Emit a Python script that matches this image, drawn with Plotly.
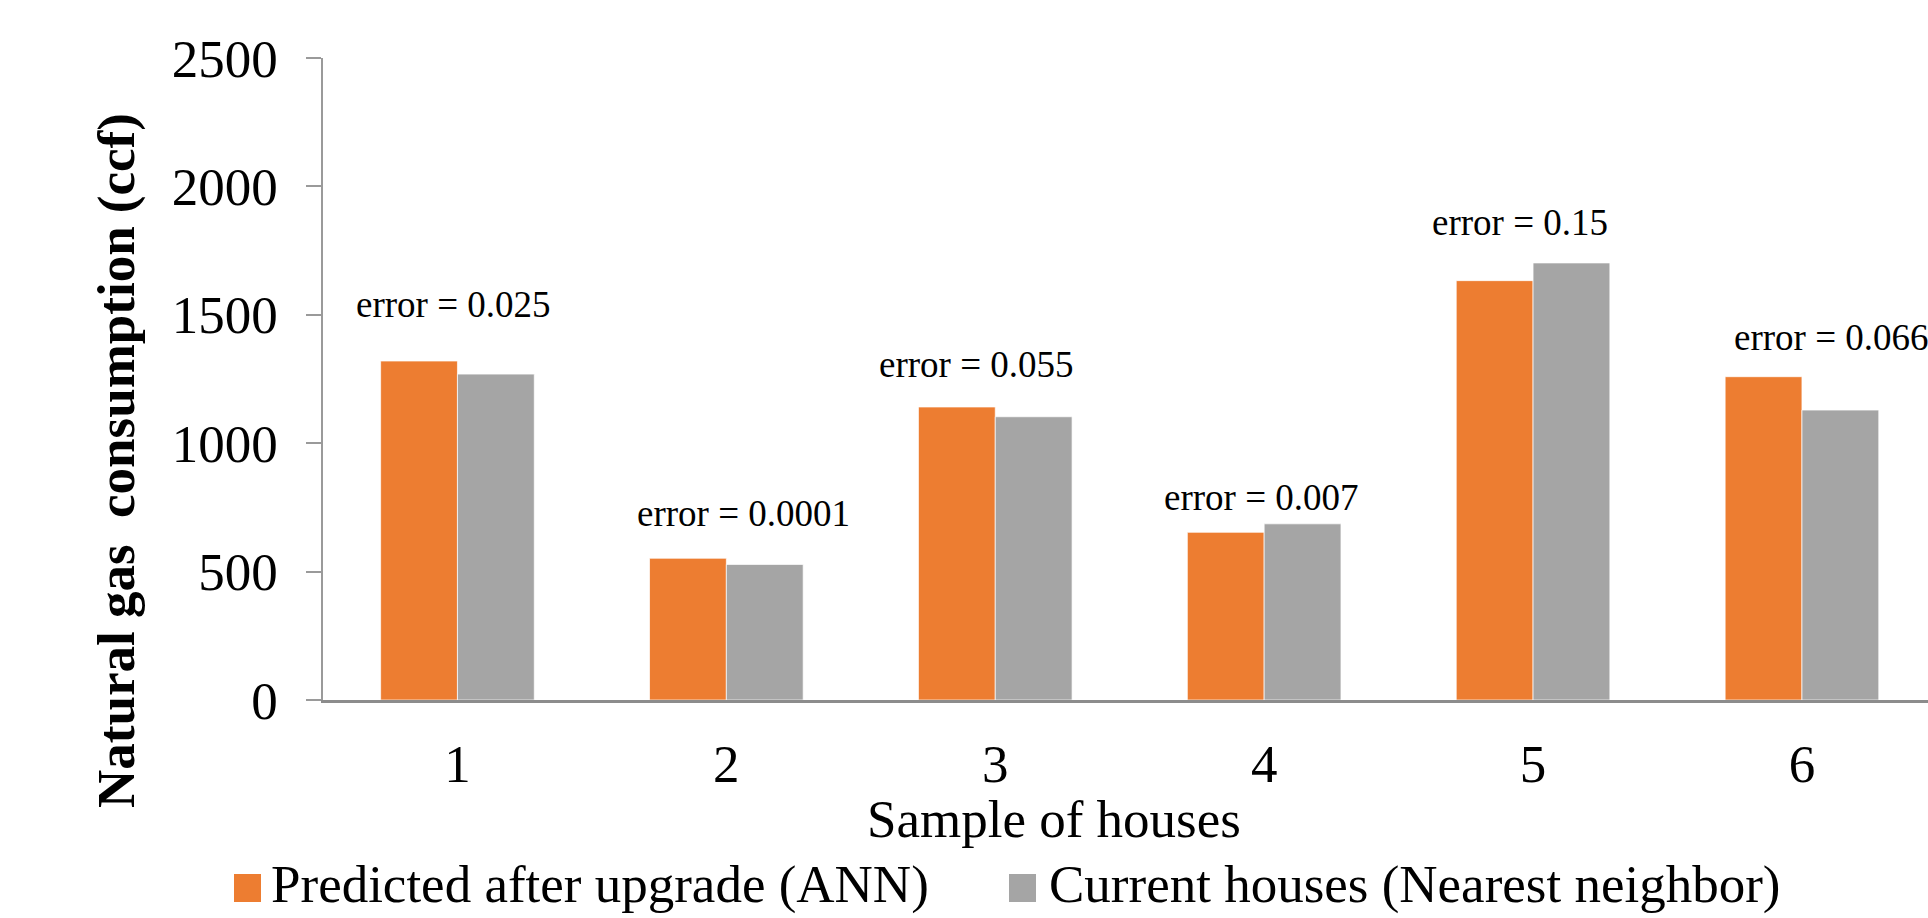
import plotly.graph_objects as go

# ---- data -------------------------------------------------------------
houses = [1, 2, 3, 4, 5, 6]
predicted_ann = [1320, 552, 1141, 653, 1633, 1259]      # predicted after upgrade (ANN)
current_nn = [1269, 528, 1103, 686, 1702, 1129]         # current houses (nearest neighbor)
error_text = ["error = 0.025", "error = 0.0001", "error = 0.055",
              "error = 0.007", "error = 0.15", "error = 0.066"]
y_ticks = [0, 500, 1000, 1500, 2000, 2500]

# ---- styling / layout constants ---------------------------------------
W, H = 1928, 918
L, R, T, B = 323, 0, 58, 218
PW, PH = W - L - R, H - T - B
ORANGE = "#ED7D31"
GREY = "#A5A5A5"
FONT = "Liberation Serif"

# where each "error = ..." note sits (category units, ccf units)
note_x = [0.985, 2.065, 2.93, 3.99, 4.95, 5.738]
note_y = [1542, 728, 1308, 787, 1861, 1410]
note_anchor = ["center"] * 5 + ["left"]


def px_x(px):
    return (px - L) / PW


def px_y(py):
    return (H - B - py) / PH


fig = go.Figure()
fig.add_trace(go.Bar(x=houses, y=predicted_ann, name="Predicted after upgrade (ANN)",
                     marker=dict(color=ORANGE, line=dict(color="rgba(255,255,255,0.7)", width=1)),
                     showlegend=False))
fig.add_trace(go.Bar(x=houses, y=current_nn, name="Current houses (Nearest neighbor)",
                     marker=dict(color=GREY, line=dict(color="rgba(255,255,255,0.7)", width=1)),
                     showlegend=False))

annotations = []
for xv, yv, txt, anc in zip(note_x, note_y, error_text, note_anchor):
    annotations.append(dict(x=xv, y=yv, xref="x", yref="y", text=txt, showarrow=False,
                            xanchor=anc, yanchor="middle",
                            font=dict(family=FONT, size=37, color="black")))

# axis titles
annotations.append(dict(x=px_x(116), y=px_y(461), xref="paper", yref="paper",
                        text="<b>Natural gas\u00a0 consumption (ccf)</b>", textangle=-90,
                        showarrow=False, xanchor="center", yanchor="middle",
                        font=dict(family=FONT, size=53, color="black")))
annotations.append(dict(x=px_x(1054), y=px_y(819), xref="paper", yref="paper",
                        text="Sample of houses", showarrow=False,
                        xanchor="center", yanchor="middle",
                        font=dict(family=FONT, size=53, color="black")))

# legend drawn below the axis title
shapes = []
legend_items = [(234, 269, ORANGE, "Predicted after upgrade (ANN)"),
                (1009, 1047, GREY, "Current houses (Nearest neighbor)")]
for sq_left, txt_left, col, label in legend_items:
    shapes.append(dict(type="rect", xref="paper", yref="paper",
                       x0=px_x(sq_left), x1=px_x(sq_left + 27),
                       y0=px_y(874), y1=px_y(902),
                       fillcolor=col, line=dict(width=0)))
    annotations.append(dict(x=px_x(txt_left), y=px_y(884), xref="paper", yref="paper",
                            text=label, showarrow=False, xanchor="left", yanchor="middle",
                            font=dict(family=FONT, size=53, color="black")))

fig.update_layout(
    width=W, height=H,
    margin=dict(l=L, r=R, t=T, b=B, pad=0),
    paper_bgcolor="white", plot_bgcolor="white",
    barmode="group", bargap=0.4286, bargroupgap=0,
    font=dict(family=FONT, color="black"),
    annotations=annotations, shapes=shapes,
)
fig.update_xaxes(range=[0.5, 0.5 + PW / 268.9], tickmode="array", tickvals=houses,
                 ticktext=[str(h) for h in houses], ticks="", showgrid=False,
                 zeroline=False, showline=True, linecolor="#8c8c8c", linewidth=2.5,
                 tickfont=dict(family=FONT, size=53, color="black"),
                 ticklabelstandoff=16)
fig.update_yaxes(range=[0, 2500], tickmode="array", tickvals=y_ticks,
                 ticks="outside", ticklen=15, tickcolor="#9a9a9a", tickwidth=1.5,
                 showgrid=False, zeroline=False, showline=True,
                 linecolor="#9a9a9a", linewidth=1.5,
                 tickfont=dict(family=FONT, size=53, color="black"),
                 ticklabelstandoff=18)

fig.write_html("out.html")
